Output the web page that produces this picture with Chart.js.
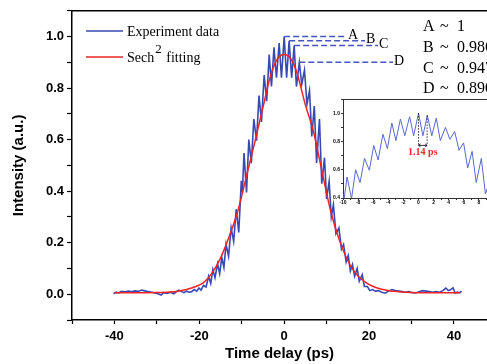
<!DOCTYPE html>
<html>
<head>
<meta charset="utf-8">
<script src="https://cdn.jsdelivr.net/npm/chart.js@4.4.0/dist/chart.umd.min.js"></script>
<style>
  html, body { margin: 0; padding: 0; background: #fff; overflow: hidden; }
  #wrap { position: relative; width: 487px; height: 364px; }
  #main { position: absolute; left: 0; top: 0; }
  #inset { position: absolute; left: 330px; top: 95px; }
</style>
</head>
<body>
<div id="wrap">
  <canvas id="main" width="487" height="364"></canvas>
  <canvas id="inset" width="157" height="115"></canvas>
</div>
<script>
// measured autocorrelation trace (ps, a.u.)
const expTime = [
  -40.2, -39.6, -39.0, -38.4, -37.6, -36.8, -36.0, -35.2, -34.4, -33.6,
  -32.8, -32.0, -31.2, -30.4, -29.6, -29.0, -28.4, -27.6, -26.8, -26.0,
  -25.4, -24.8, -24.2, -23.6, -23.0, -22.4, -21.8, -21.2, -20.6, -20.1,
  -19.6, -19.0, -18.4, -17.8, -17.3, -16.8, -16.3, -15.7, -15.2, -14.7,
  -14.2, -13.7, -13.1, -12.5, -11.9, -11.3, -10.7, -10.1, -9.85, -9.46,
  -8.87, -8.33, -7.74, -7.15, -6.51, -5.93, -5.35, -4.71, -4.12, -3.53,
  -2.99, -2.40, -1.82, -1.18, -0.64, 0, 0.58, 1.17, 1.76, 2.35,
  2.89, 3.57, 4.15, 4.79, 5.37, 5.97, 6.51, 7.10, 7.64, 8.32,
  8.86, 9.5, 10.0, 10.6, 11.1, 11.6, 12.2, 12.9, 13.5, 14.0,
  14.6, 15.1, 15.6, 16.1, 16.6, 17.2, 17.7, 18.4, 18.9, 19.6,
  20.2, 20.8, 21.5, 22.2, 23.0, 23.8, 24.6, 25.4, 26.2, 27.0,
  27.8, 28.6, 29.4, 30.2, 31.0, 31.8, 32.6, 33.4, 34.2, 35.0,
  35.8, 36.6, 37.4, 38.1, 38.7, 39.3, 39.8, 40.3, 40.8, 41.4, 41.8
];
const expValue = [
  0.002, 0.008, 0.005, 0.011, 0.009, 0.012, 0.010, 0.013, 0.011, 0.016,
  0.013, 0.010, 0.008, 0.005, 0.001, -0.003, 0.006, 0.003, 0.008, 0.002,
  0.010, 0.016, 0.010, 0.006, 0.012, 0.008, 0.010, 0.018, 0.012, 0.024,
  0.016, 0.034, 0.028, 0.070, 0.042, 0.096, 0.064, 0.118, 0.080, 0.142,
  0.104, 0.194, 0.148, 0.258, 0.205, 0.330, 0.240, 0.440, 0.395, 0.548,
  0.395, 0.600, 0.509, 0.680, 0.596, 0.771, 0.669, 0.851, 0.749, 0.930,
  0.806, 0.958, 0.840, 0.975, 0.840, 1.000, 0.840, 0.984, 0.840, 0.965,
  0.806, 0.900, 0.815, 0.870, 0.737, 0.790, 0.612, 0.730, 0.509, 0.680,
  0.429, 0.530, 0.370, 0.438, 0.300, 0.347, 0.235, 0.257, 0.175, 0.193,
  0.125, 0.150, 0.090, 0.115, 0.070, 0.100, 0.050, 0.076, 0.030, 0.030,
  0.014, 0.018, 0.012, 0.014, 0.008, 0.004, 0.012, 0.018, 0.014, 0.012,
  0.010, 0.008, 0.010, 0.006, 0.005, 0.010, 0.014, 0.012, 0.010, 0.008,
  0.010, 0.008, 0.014, 0.024, 0.014, 0.018, 0.025, 0.004, 0.008, 0.006, 0.012
];

// sech^2 fit
const fitTime = [-40, -34, -30, -27, -25, -23, -21, -19, -17, -15, -13, -11, -9, -7, -5, -3, -1.5, 0,
  1.5, 3, 5, 7, 9, 11, 13, 15, 17, 19, 21, 23, 25, 27, 30, 34, 38, 41.5];
const fitValue = [0.006, 0.006, 0.007, 0.009, 0.012, 0.018, 0.029, 0.045, 0.082, 0.140, 0.222, 0.318, 0.450, 0.585, 0.725, 0.860, 0.915, 0.930,
  0.915, 0.860, 0.735, 0.625, 0.470, 0.320, 0.210, 0.130, 0.078, 0.048, 0.030, 0.019, 0.013, 0.010, 0.007, 0.006, 0.006, 0.006];

// peaks marked A-D
const markerNames = ['A', 'B', 'C', 'D'];
const markerTime = [0, 1.17, 2.35, 3.57];
const markerValue = [1.0, 0.984, 0.965, 0.900];
const ratioLabels = ['1', '0.986', '0.947', '0.890'];

// inset fringe spacing
const fringeStart = 0;
const fringeEnd = 1.14;
const fringeLabel = '1.14 ps';

const xTickLabels = [-40, -20, 0, 20, 40];
const yTickLabels = ['0.0', '0.2', '0.4', '0.6', '0.8', '1.0'];
const insetXLabels = [-10, -8, -6, -4, -2, 0, 2, 4, 6, 8];
const insetYLabels = ['0.4', '0.6', '0.8', '1.0'];

const blue = '#3949b3';
const red = '#ee2424';

Chart.defaults.font.family = '"Liberation Sans", Arial, sans-serif';
Chart.defaults.font.weight = 'bold';
Chart.defaults.color = '#000';

const expPoints = expTime.map((t, i) => ({ x: t, y: expValue[i] }));
const fitPoints = fitTime.map((t, i) => ({ x: t, y: fitValue[i] }));

const serif = '"Liberation Serif", "Times New Roman", serif';

const mainDecor = {
  id: 'mainDecor',
  afterDraw(chart) {
    const { ctx, chartArea, scales } = chart;
    const x = scales.x, y = scales.y;
    ctx.save();
    // top frame
    ctx.strokeStyle = '#000';
    ctx.lineWidth = 1.5;
    ctx.beginPath();
    ctx.moveTo(chartArea.left - 0.75, chartArea.top);
    ctx.lineTo(chartArea.right, chartArea.top);
    ctx.stroke();

    // legend
    ctx.lineWidth = 1.5;
    ctx.strokeStyle = blue;
    ctx.beginPath(); ctx.moveTo(86, 31); ctx.lineTo(123, 31); ctx.stroke();
    ctx.strokeStyle = red;
    ctx.beginPath(); ctx.moveTo(86, 57); ctx.lineTo(123, 57); ctx.stroke();
    ctx.fillStyle = '#000';
    ctx.textBaseline = 'alphabetic';
    ctx.textAlign = 'left';
    ctx.font = '14px ' + serif;
    ctx.fillText('Experiment data', 127, 36);
    ctx.fillText('Sech', 127, 62);
    let w = ctx.measureText('Sech').width;
    ctx.font = '13px ' + serif;
    ctx.fillText('2', 127 + w + 1, 53);
    let w2 = ctx.measureText('2').width;
    ctx.font = '14px ' + serif;
    ctx.fillText(' fitting', 127 + w + w2 + 2, 62);

    // dashed peak markers
    const ends = [347, 365, 378, 393];
    ctx.strokeStyle = '#4556c0';
    ctx.lineWidth = 1.5;
    ctx.setLineDash([6, 3]);
    ctx.font = '14px ' + serif;
    ctx.textBaseline = 'middle';
    markerNames.forEach((n, i) => {
      const px = x.getPixelForValue(markerTime[i]);
      const py = y.getPixelForValue(markerValue[i]);
      ctx.beginPath();
      ctx.moveTo(px, py);
      ctx.lineTo(ends[i], py);
      ctx.stroke();
      ctx.fillText(n, ends[i] + 1, py - 1);
    });
    ctx.setLineDash([]);

    // ratio list
    ctx.font = '16px ' + serif;
    const rows = [27, 48, 69, 89];
    markerNames.forEach((n, i) => {
      ctx.fillText(n, 423, rows[i]);
      ctx.fillText('~', 440, rows[i]);
      ctx.fillText(ratioLabels[i], 457, rows[i]);
    });
    ctx.restore();
  }
};

new Chart(document.getElementById('main'), {
  type: 'line',
  data: {
    datasets: [
      {
        label: 'Sech2 fitting',
        data: fitPoints,
        borderColor: red,
        borderWidth: 1.5,
        pointRadius: 0,
        cubicInterpolationMode: 'monotone',
        order: 0
      },
      {
        label: 'Experiment data',
        data: expPoints,
        borderColor: blue,
        borderWidth: 1.6,
        pointRadius: 0,
        tension: 0,
        order: 1
      }
    ]
  },
  options: {
    responsive: false,
    animation: false,
    layout: { padding: { top: 10, left: 0, right: 0, bottom: 0 } },
    plugins: { legend: { display: false }, tooltip: { enabled: false } },
    scales: {
      x: {
        type: 'linear',
        min: -50,
        max: 47.8,
        afterFit(s) { s.height = 44; },
        border: { display: true, color: '#000', width: 1.5 },
        grid: { drawOnChartArea: false, drawTicks: true, tickLength: 4, color: '#000', tickWidth: 1.2 },
        ticks: {
          stepSize: 10,
          includeBounds: false,
          autoSkip: false,
          maxRotation: 0,
          padding: 5,
          font: { size: 13, weight: 'bold' },
          callback: v => xTickLabels.includes(Math.round(v)) ? String(Math.round(v)) : ''
        },
        title: {
          display: true,
          text: 'Time delay (ps)',
          font: { size: 15, weight: 'bold' },
          padding: { top: 0, bottom: 1 }
        }
      },
      y: {
        min: -0.1,
        max: 1.1,
        afterFit(s) { s.width = 72; },
        border: { display: true, color: '#000', width: 1.5 },
        grid: { drawOnChartArea: false, drawTicks: true, tickLength: 5, color: '#000', tickWidth: 1.2 },
        ticks: {
          stepSize: 0.1,
          includeBounds: false,
          autoSkip: false,
          padding: 3,
          font: { size: 13, weight: 'bold' },
          callback: v => yTickLabels.includes(v.toFixed(1)) ? v.toFixed(1) : ''
        },
        title: {
          display: true,
          text: 'Intensity (a.u.)',
          font: { size: 15, weight: 'bold' },
          padding: { top: 10, bottom: 0 }
        }
      }
    }
  },
  plugins: [mainDecor]
});

const insetDecor = {
  id: 'insetDecor',
  afterDraw(chart) {
    const { ctx, chartArea, scales } = chart;
    const x = scales.x, y = scales.y;
    ctx.save();
    ctx.strokeStyle = '#333';
    ctx.lineWidth = 1;
    ctx.beginPath();
    ctx.moveTo(chartArea.left, chartArea.top + 0.5);
    ctx.lineTo(chartArea.right, chartArea.top + 0.5);
    ctx.stroke();

    const x0 = x.getPixelForValue(fringeStart);
    const x1 = x.getPixelForValue(fringeEnd);
    const yb = y.getPixelForValue(0.772);
    const i0 = expTime.indexOf(fringeStart);
    const yTop0 = y.getPixelForValue(expValue[i0]);
    const yTop1 = y.getPixelForValue(markerValue[1]);
    ctx.strokeStyle = '#000';
    ctx.lineWidth = 0.8;
    ctx.setLineDash([1.5, 1.5]);
    ctx.beginPath();
    ctx.moveTo(x0, yTop0); ctx.lineTo(x0, yb);
    ctx.moveTo(x1, yTop1); ctx.lineTo(x1, yb);
    ctx.stroke();
    ctx.setLineDash([]);
    ctx.beginPath();
    ctx.moveTo(x0, yb); ctx.lineTo(x1, yb);
    ctx.moveTo(x0 + 2, yb - 1.5); ctx.lineTo(x0, yb); ctx.lineTo(x0 + 2, yb + 1.5);
    ctx.moveTo(x1 - 2, yb - 1.5); ctx.lineTo(x1, yb); ctx.lineTo(x1 - 2, yb + 1.5);
    ctx.stroke();

    ctx.fillStyle = '#e82a2a';
    ctx.font = 'bold 10px ' + serif;
    ctx.textAlign = 'center';
    ctx.textBaseline = 'middle';
    ctx.fillText(fringeLabel, (x0 + x1) / 2, y.getPixelForValue(0.72));
    ctx.restore();
  }
};

new Chart(document.getElementById('inset'), {
  type: 'line',
  data: {
    datasets: [{
      data: expPoints,
      borderColor: '#5869cc',
      borderWidth: 1,
      pointRadius: 0,
      tension: 0
    }]
  },
  options: {
    responsive: false,
    animation: false,
    layout: { padding: { top: 2, left: 0, right: 0, bottom: 0 } },
    plugins: { legend: { display: false }, tooltip: { enabled: false } },
    scales: {
      x: {
        type: 'linear',
        min: -10,
        max: 9.07,
        afterFit(s) { s.height = 12; },
        border: { display: true, color: '#333', width: 1 },
        grid: { drawOnChartArea: false, tickLength: 2, color: '#333' },
        ticks: {
          stepSize: 1,
          includeBounds: false,
          autoSkip: false,
          maxRotation: 0,
          padding: 0,
          font: { size: 5, weight: 'bold' },
          callback: v => insetXLabels.includes(Math.round(v)) ? String(Math.round(v)) : ''
        }
      },
      y: {
        min: 0.4,
        max: 1.1,
        afterFit(s) { s.width = 13; },
        border: { display: true, color: '#333', width: 1 },
        grid: { drawOnChartArea: false, tickLength: 2, color: '#333' },
        ticks: {
          stepSize: 0.1,
          includeBounds: false,
          autoSkip: false,
          padding: 1,
          font: { size: 5, weight: 'bold' },
          callback: v => insetYLabels.includes(v.toFixed(1)) ? v.toFixed(1) : ''
        }
      }
    }
  },
  plugins: [insetDecor]
});
</script>
</body>
</html>
